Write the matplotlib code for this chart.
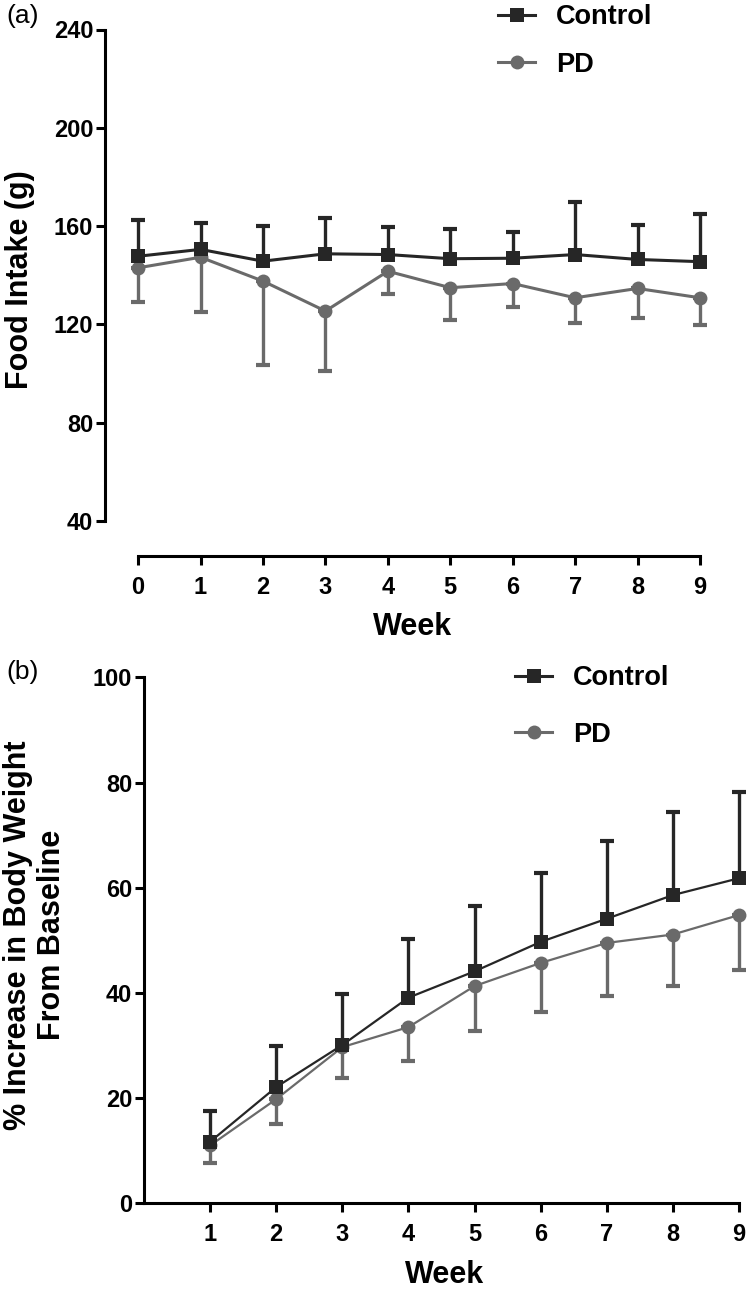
import matplotlib
matplotlib.use('Agg')
import matplotlib.pyplot as plt
from matplotlib.lines import Line2D

plt.rcParams['font.family'] = ['Liberation Sans', 'DejaVu Sans']

# ---------------- data ----------------
weeks_a = [0, 1, 2, 3, 4, 5, 6, 7, 8, 9]
food_control = [147.7, 150.5, 145.7, 148.7, 148.4, 146.7, 146.9, 148.4, 146.4, 145.5]
food_control_err = [14.7, 10.8, 14.2, 14.6, 11.1, 11.9, 10.7, 21.4, 14.2, 19.2]
food_pd = [143.0, 147.3, 137.6, 125.4, 141.6, 134.9, 136.6, 130.8, 134.6, 130.8]
food_pd_err = [13.8, 22.1, 34.1, 24.4, 9.4, 13.2, 9.4, 10.1, 12.0, 11.2]

weeks_b = [1, 2, 3, 4, 5, 6, 7, 8, 9]
bw_control = [11.7, 22.1, 30.1, 39.1, 44.1, 49.7, 54.1, 58.6, 61.8]
bw_control_err = [5.9, 7.8, 9.6, 11.2, 12.4, 13.1, 14.7, 15.8, 16.4]
bw_pd = [11.0, 19.8, 29.7, 33.5, 41.3, 45.7, 49.5, 51.1, 54.8]
bw_pd_err = [3.3, 4.7, 5.8, 6.5, 8.6, 9.4, 10.1, 9.8, 10.5]

yticks_a = [40, 80, 120, 160, 200, 240]
yticks_b = [0, 20, 40, 60, 80, 100]

# ---------------- style ----------------
C_CTRL = '#262626'
C_PD = '#6a6a6a'
W, H = 748, 1289
fig = plt.figure(figsize=(W / 100, H / 100), dpi=100)

def px_axes(left, right, top, bottom):
    return fig.add_axes([left / W, 1 - bottom / H, (right - left) / W, (bottom - top) / H])

TICK_FS = 17
LABEL_FS = 22
LEG_FS = 19.5

def style_axes(ax):
    for s in ['top', 'right']:
        ax.spines[s].set_visible(False)
    for s in ['left', 'bottom']:
        ax.spines[s].set_linewidth(2.2)
        ax.spines[s].set_color('black')
    ax.tick_params(axis='both', width=2.2, length=6.5, labelsize=TICK_FS, direction='out')
    ax.tick_params(axis='x', pad=8)
    ax.tick_params(axis='y', pad=2)
    for lab in ax.get_xticklabels() + ax.get_yticklabels():
        lab.set_fontweight('bold')

def plot_series(ax, x, y, err, color, marker, lw, upper):
    zeros = [0] * len(err)
    yerr = [zeros, err] if upper else [err, zeros]
    ax.errorbar(x, y, yerr=yerr, fmt='none', ecolor=color, elinewidth=2.4,
                capsize=5, capthick=3, clip_on=False, zorder=2)
    ax.plot(x, y, color=color, lw=lw, marker=marker, markersize=10,
            markeredgewidth=0, clip_on=False, zorder=3)

def add_legend(x_px, y_px, spacing):
    h_ctrl = Line2D([], [], color=C_CTRL, lw=2.2, marker='s', markersize=10, markeredgewidth=0)
    h_pd = Line2D([], [], color=C_PD, lw=2.2, marker='o', markersize=10, markeredgewidth=0)
    fig.legend([h_ctrl, h_pd], ['Control', 'PD'], loc='upper left',
               bbox_to_anchor=(x_px / W, 1 - y_px / H), frameon=False,
               prop={'size': LEG_FS, 'weight': 'bold'}, handlelength=1.37,
               handletextpad=0.78, labelspacing=spacing, borderpad=0,
               borderaxespad=0)

# ---------------- panel (a) ----------------
ax1 = px_axes(105, 720, 29.5, 556)
ax1.set_xlim(-0.53, 9.32)
ax1.set_ylim(25.7, 240)
plot_series(ax1, weeks_a, food_pd, food_pd_err, C_PD, 'o', 2.2, upper=False)
plot_series(ax1, weeks_a, food_control, food_control_err, C_CTRL, 's', 2.2, upper=True)
ax1.set_xticks(weeks_a)
ax1.set_yticks(yticks_a)
ax1.spines['left'].set_bounds(40, 240)
ax1.spines['bottom'].set_bounds(0, 9)
style_axes(ax1)
ax1.set_xlabel('Week', fontsize=LABEL_FS, fontweight='bold', labelpad=9.5)
fig.text(20 / W, 1 - 280 / H, 'Food Intake (g)', rotation=90, ha='center', va='center',
         fontsize=LABEL_FS, fontweight='bold')
fig.text(6 / W, 1 - 16 / H, '(a)', ha='left', va='center', fontsize=19)
add_legend(498, 4, 0.80)

# ---------------- panel (b) ----------------
ax2 = px_axes(144, 745, 677.3, 1203.3)
ax2.set_xlim(0, 9.09)
ax2.set_ylim(0, 100)
plot_series(ax2, weeks_b, bw_pd, bw_pd_err, C_PD, 'o', 1.6, upper=False)
plot_series(ax2, weeks_b, bw_control, bw_control_err, C_CTRL, 's', 1.6, upper=True)
ax2.set_xticks(weeks_b)
ax2.set_yticks(yticks_b)
ax2.spines['left'].set_bounds(0, 100)
ax2.spines['bottom'].set_bounds(0, 9)
style_axes(ax2)
ax2.set_xlabel('Week', fontsize=LABEL_FS, fontweight='bold', labelpad=9.5)
fig.text(35 / W, 1 - 935 / H, '% Increase in Body Weight\nFrom Baseline', rotation=90,
         ha='center', va='center', multialignment='center', fontsize=LABEL_FS,
         fontweight='bold', linespacing=1.15)
fig.text(6 / W, 1 - 672 / H, '(b)', ha='left', va='center', fontsize=19)
add_legend(515, 665, 1.13)

fig.savefig('out.png', dpi=100)
